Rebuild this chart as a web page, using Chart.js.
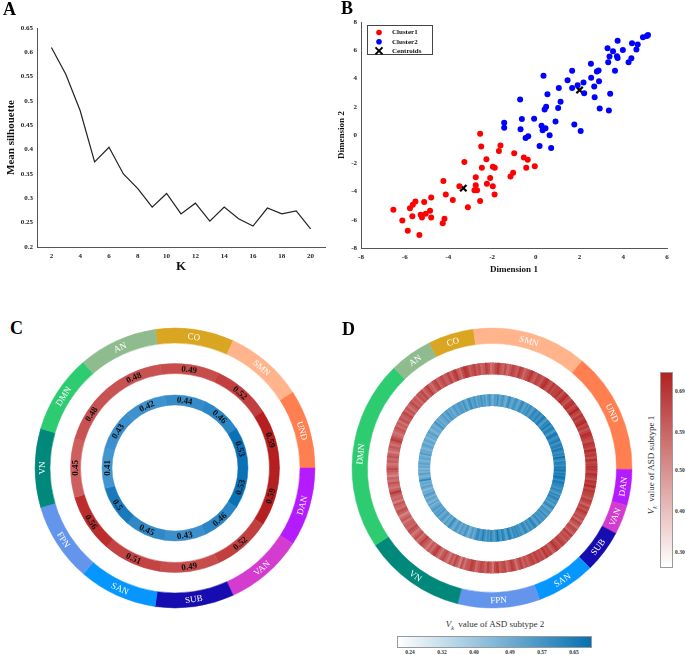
<!DOCTYPE html>
<html>
<head>
<meta charset="utf-8">
<script src="https://cdn.jsdelivr.net/npm/chart.js"></script>
<style>
  body { margin: 0; background: #fff; }
  #page { position: relative; width: 685px; height: 655px; overflow: hidden; font-family: "Liberation Serif", "DejaVu Serif", serif; }
  canvas { position: absolute; }
  .tag { position: absolute; font-weight: bold; font-size: 18px; line-height: 18px; }
  .cb-lab { position: absolute; font-size: 5.5px; color: #333; line-height: 5.5px; font-weight: bold; }
  .cb-title { position: absolute; font-size: 9px; color: #333; white-space: nowrap; }
</style>
</head>
<body>
<div id="page">
  <canvas id="cA" width="330" height="282" style="left:0;top:0"></canvas>
  <canvas id="cB" width="355" height="282" style="left:330px;top:0"></canvas>
  <canvas id="cC" width="300" height="300" style="left:25px;top:318px"></canvas>
  <canvas id="cD" width="300" height="300" style="left:342px;top:318px"></canvas>
  <div class="tag" style="left:3px;top:0">A</div>
  <div class="tag" style="left:341px;top:-1px">B</div>
  <div class="tag" style="left:10px;top:319px">C</div>
  <div class="tag" style="left:342px;top:320px">D</div>
  <div id="barRed" style="position:absolute;left:660px;top:372px;width:11px;height:194px;border:1px solid #999;background:linear-gradient(to top,#ffffff,#b22222)"></div>
  <div id="barBlue" style="position:absolute;left:397px;top:636px;width:193px;height:10px;border:1px solid #999;background:linear-gradient(to right,#ffffff,#0571b0)"></div>
  <div class="cb-title" style="left:652px;top:465px;transform:translate(-50%,-50%) rotate(-90deg)"><i>V</i><sub style="font-size:6px"><i>k</i></sub>&nbsp; value of ASD subtype 1</div>
  <div class="cb-title" style="left:495px;top:625px;transform:translate(-50%,-50%)"><i>V</i><sub style="font-size:6px"><i>k</i></sub>&nbsp; value of ASD subtype 2</div>
</div>
<script>
// ---- panel A: silhouette vs K
const kValues = [2, 3, 4, 5, 6, 7, 8, 9, 10, 11, 12, 13, 14, 15, 16, 17, 18, 19, 20];
const meanSilhouette = [0.61, 0.555, 0.48, 0.375, 0.405, 0.35, 0.32, 0.282, 0.31, 0.268, 0.29, 0.253, 0.282, 0.258, 0.243, 0.28, 0.268, 0.274, 0.237];
const yTicksA = [0.2, 0.25, 0.3, 0.35, 0.4, 0.45, 0.5, 0.55, 0.6, 0.65];
const xTicksA = [2, 4, 6, 8, 10, 12, 14, 16, 18, 20];

// ---- panel B: k-means scatter
const c1x = [-6.52, -6.11, -5.86, -5.76, -5.63, -5.51, -5.65, -5.33, -5.27, -5.21, -5.11, -5.04, -4.84, -4.79, -4.79, -4.26, -4.18, -4.23, -4.12, -3.80, -3.50, -3.27, -3.11, -2.81, -2.69, -2.75, -2.75, -2.55, -2.55, -2.50, -2.47, -2.26, -2.24, -2.09, -1.97, -1.97, -1.88, -1.89, -1.69, -1.62, -1.16, -1.04, -0.99, -0.55, -0.44, -0.37, -0.05];
const c1y = [-5.29, -6.05, -6.78, -5.18, -4.94, -4.71, -5.76, -7.08, -5.65, -5.84, -4.75, -5.58, -5.36, -4.42, -5.84, -6.24, -5.93, -3.25, -4.21, -4.61, -3.62, -1.91, -5.11, -3.91, -3.91, -2.99, -3.55, -4.68, 0.09, -0.82, -2.31, -1.72, -3.46, -3.04, -3.62, -2.24, -2.31, -4.21, -1.13, -0.75, -2.94, -2.68, -1.29, -1.60, -2.31, -1.76, -2.21];
const c2x = [-1.45, -1.45, -0.72, -0.70, -0.64, -0.47, -0.35, -0.08, 0.17, 0.26, 0.31, 0.35, 0.40, 0.44, 0.47, 0.53, 0.63, 0.70, 0.90, 1.02, 1.05, 1.13, 1.45, 1.66, 1.66, 1.76, 1.91, 2.05, 2.18, 2.21, 2.52, 2.53, 2.67, 2.69, 2.79, 2.87, 2.89, 2.92, 3.28, 3.31, 3.34, 3.37, 3.40, 3.53, 3.62, 3.71, 3.74, 3.74, 3.98, 4.24, 4.37, 4.40, 4.60, 4.66, 4.90, 5.08, 5.13];
const c2y = [0.87, 0.52, 2.52, 0.40, 1.13, -0.21, -0.09, 1.15, -0.78, 0.66, 0.33, 4.19, 1.81, 0.47, 2.00, 2.89, -0.02, -0.92, 0.96, 1.91, 3.32, 2.35, 3.88, 4.54, 3.32, 0.75, 3.53, 0.28, 3.72, 2.96, 5.04, 4.05, 3.44, 2.68, 4.49, 4.56, 3.81, 1.88, 6.14, 5.15, 1.74, 5.55, 2.92, 5.93, 4.54, 5.58, 6.68, 5.46, 6.02, 5.15, 5.44, 6.49, 6.05, 6.40, 6.92, 7.01, 7.08];
const centroidX = [-3.32, 2.0];
const centroidY = [-3.76, 3.18];

// ---- panels C/D: networks
const networks = ['CO', 'SMN', 'UND', 'DAN', 'VAN', 'SUB', 'SAN', 'FPN', 'VN', 'DMN', 'AN'];
const netColors = ['#daa520', '#ffb48c', '#ff7f50', '#b41cff', '#d43ccf', '#160cb0', '#0597ff', '#6495ed', '#00897b', '#2ecc71', '#8fbc8f'];
const subtype1C = [0.49, 0.52, 0.59, 0.59, 0.52, 0.49, 0.51, 0.56, 0.45, 0.48, 0.48];
const subtype2C = [0.44, 0.46, 0.53, 0.53, 0.46, 0.43, 0.45, 0.5, 0.41, 0.43, 0.42];
const nodeCounts = [14, 35, 37, 11, 9, 13, 18, 25, 31, 58, 13];

// node-level Vk, in network order (CO, SMN, UND, DAN, VAN, SUB, SAN, FPN, VN, DMN, AN)
const subtype1Nodes = [
  0.63,0.67,0.60,0.65,0.69,0.62,0.58,0.66,0.70,0.68,0.61,0.64,0.67,0.62,
  0.65,0.59,0.62,0.68,0.64,0.57,0.61,0.66,0.69,0.63,0.60,0.65,0.58,0.62,0.67,0.64,0.61,0.68,0.65,0.59,0.63,0.66,0.70,0.64,0.61,0.67,0.65,0.62,0.68,0.71,0.66,0.63,0.69,0.65,0.67,
  0.67,0.70,0.64,0.68,0.72,0.66,0.63,0.69,0.71,0.65,0.68,0.73,0.67,0.64,0.70,0.66,0.69,0.72,0.65,0.68,0.63,0.67,0.71,0.69,0.66,0.64,0.70,0.68,0.65,0.72,0.67,0.69,0.64,0.71,0.66,0.68,0.70,
  0.69,0.66,0.71,0.68,0.64,0.70,0.67,0.72,0.65,0.69,0.67,
  0.66,0.62,0.68,0.65,0.60,0.67,0.63,0.69,0.65,
  0.62,0.65,0.59,0.67,0.63,0.58,0.66,0.64,0.60,0.68,0.63,0.65,0.62,
  0.65,0.68,0.63,0.66,0.70,0.64,0.60,0.67,0.65,0.69,0.62,0.66,0.64,0.68,0.63,0.67,0.65,0.61,
  0.64,0.60,0.67,0.63,0.57,0.65,0.68,0.62,0.59,0.66,0.64,0.61,0.69,0.65,0.56,0.63,0.67,0.60,0.64,0.66,0.62,0.58,0.65,0.68,0.63,
  0.62,0.57,0.64,0.54,0.61,0.66,0.59,0.63,0.55,0.60,0.65,0.62,0.56,0.61,0.68,0.64,0.58,0.62,0.55,0.60,0.63,0.67,0.61,0.57,0.64,0.60,0.55,0.62,0.65,0.59,0.61,
  0.60,0.55,0.62,0.58,0.53,0.61,0.64,0.57,0.59,0.63,0.54,0.60,0.58,0.62,0.69,0.61,0.56,0.59,0.63,0.57,0.60,0.53,0.58,0.62,0.65,0.59,0.56,0.61,0.58,0.63,0.60,0.54,0.59,0.62,0.57,0.61,0.68,0.64,0.59,0.56,0.60,0.63,0.58,0.61,0.57,0.64,0.60,0.62,0.66,0.59,0.63,0.57,0.61,0.65,0.60,0.62,0.58,0.64,
  0.62,0.66,0.59,0.63,0.68,0.61,0.58,0.64,0.67,0.60,0.63,0.66,0.61
];
const subtype2Nodes = [
  0.55,0.51,0.58,0.53,0.49,0.56,0.60,0.52,0.54,0.57,0.50,0.55,0.53,0.58,
  0.52,0.56,0.49,0.54,0.58,0.51,0.47,0.55,0.53,0.59,0.50,0.54,0.57,0.52,0.48,0.55,0.60,0.53,0.51,0.56,0.58,0.54,0.50,0.57,0.61,0.55,0.52,0.58,0.54,0.60,0.56,0.53,0.59,0.62,0.57,
  0.59,0.63,0.56,0.61,0.65,0.58,0.54,0.62,0.60,0.66,0.57,0.61,0.64,0.59,0.55,0.63,0.67,0.60,0.58,0.62,0.65,0.57,0.61,0.64,0.59,0.66,0.62,0.58,0.63,0.60,0.68,0.61,0.57,0.64,0.62,0.59,0.65,
  0.63,0.67,0.60,0.65,0.62,0.68,0.64,0.59,0.66,0.63,0.61,
  0.60,0.56,0.62,0.58,0.54,0.61,0.57,0.63,0.59,
  0.55,0.59,0.52,0.57,0.61,0.54,0.50,0.58,0.56,0.53,0.60,0.55,0.57,
  0.58,0.54,0.61,0.56,0.52,0.59,0.63,0.55,0.57,0.60,0.53,0.58,0.62,0.56,0.54,0.59,0.57,0.61,
  0.57,0.61,0.54,0.59,0.65,0.56,0.52,0.60,0.63,0.55,0.58,0.67,0.59,0.53,0.57,0.62,0.56,0.60,0.54,0.58,0.64,0.57,0.55,0.61,0.59,
  0.53,0.49,0.56,0.51,0.47,0.54,0.58,0.50,0.52,0.55,0.48,0.53,0.57,0.51,0.49,0.54,0.60,0.52,0.50,0.55,0.47,0.53,0.56,0.51,0.49,0.57,0.52,0.54,0.50,0.55,0.53,
  0.50,0.47,0.53,0.45,0.49,0.52,0.46,0.51,0.55,0.48,0.50,0.44,0.49,0.53,0.47,0.51,0.48,0.61,0.52,0.46,0.49,0.54,0.47,0.50,0.45,0.51,0.48,0.53,0.49,0.46,0.52,0.50,0.47,0.55,0.49,0.51,0.46,0.48,0.53,0.50,0.47,0.52,0.49,0.45,0.51,0.48,0.54,0.50,0.46,0.49,0.52,0.47,0.51,0.58,0.49,0.53,0.48,0.51,
  0.51,0.55,0.49,0.53,0.57,0.50,0.54,0.48,0.52,0.56,0.51,0.53,0.55
];
const redBarTicks = [0.30, 0.40, 0.50, 0.59, 0.69];
const blueBarTicks = [0.24, 0.32, 0.40, 0.49, 0.57, 0.65];

// colour scales
const redRange = [0.266, 0.738];
const blueRange = [0.2075, 0.6925];
function mix(c0, c1, t) {
  t = Math.max(0, Math.min(1, t));
  return 'rgb(' + c0.map((v, k) => Math.round(v + (c1[k] - v) * t)).join(',') + ')';
}
const redC = v => mix([214, 118, 118], [180, 26, 26], (v - 0.40) / 0.20);
const blueC = v => mix([72, 152, 210], [5, 110, 180], (v - 0.40) / 0.14);
const redD = v => mix([255, 255, 255], [178, 34, 34], (v - redRange[0]) / (redRange[1] - redRange[0]));
const blueD = v => mix([255, 255, 255], [5, 113, 176], (v - blueRange[0]) / (blueRange[1] - blueRange[0]));

const serif = '"Liberation Serif", "DejaVu Serif", serif';
Chart.defaults.font.family = serif;
Chart.defaults.color = '#222';

// text placed along each ring segment
const ringLabels = {
  id: 'ringLabels',
  afterDatasetsDraw(chart) {
    const ctx = chart.ctx;
    chart.data.datasets.forEach((ds, i) => {
      if (!ds.ringText) return;
      chart.getDatasetMeta(i).data.forEach((arc, j) => {
        const p = arc.getProps(['x', 'y', 'startAngle', 'endAngle', 'innerRadius', 'outerRadius']);
        const a = (p.startAngle + p.endAngle) / 2;
        const r = (p.innerRadius + p.outerRadius) / 2;
        let t = a + Math.PI / 2;
        t = Math.atan2(Math.sin(t), Math.cos(t));
        const rot = Math.abs(t) <= Math.PI / 2 ? t : t - Math.sign(t) * Math.PI;
        ctx.save();
        ctx.translate(p.x + r * Math.cos(a), p.y + r * Math.sin(a));
        ctx.rotate(rot);
        ctx.font = ds.ringFont;
        ctx.fillStyle = ds.ringColor;
        ctx.textAlign = 'center';
        ctx.textBaseline = 'middle';
        ctx.fillText(ds.ringText[j], 0, 0.5);
        ctx.restore();
      });
    });
  }
};

// boxed legend for panel B
const boxLegend = {
  id: 'boxLegend',
  afterDraw(chart, args, o) {
    const ctx = chart.ctx;
    ctx.save();
    ctx.fillStyle = '#fff';
    ctx.fillRect(o.x, o.y, o.w, o.h);
    ctx.strokeStyle = '#444';
    ctx.lineWidth = 1;
    ctx.strokeRect(o.x + 0.5, o.y + 0.5, o.w, o.h);
    chart.data.datasets.forEach((ds, i) => {
      const y = o.y + 7.5 + i * 9.2;
      const x = o.x + 12;
      if (ds.pointStyle === 'crossRot') {
        ctx.strokeStyle = ds.borderColor;
        ctx.lineWidth = 2;
        ctx.beginPath();
        ctx.moveTo(x - 3.5, y - 3.5); ctx.lineTo(x + 3.5, y + 3.5);
        ctx.moveTo(x + 3.5, y - 3.5); ctx.lineTo(x - 3.5, y + 3.5);
        ctx.stroke();
      } else {
        ctx.fillStyle = ds.backgroundColor;
        ctx.beginPath();
        ctx.arc(x, y, 2.8, 0, Math.PI * 2);
        ctx.fill();
      }
      ctx.fillStyle = '#111';
      ctx.font = 'bold 7px ' + serif;
      ctx.textBaseline = 'middle';
      ctx.fillText(ds.label, o.x + 25, y);
    });
    ctx.restore();
  }
};

const tickFont = {size: 7, weight: 'bold'};
const axisBorder = {display: true, color: '#555', width: 1};

new Chart(document.getElementById('cA'), {
  type: 'line',
  data: {
    datasets: [{
      data: kValues.map((k, i) => ({x: k, y: meanSilhouette[i]})),
      borderColor: '#222',
      borderWidth: 1.2,
      pointRadius: 0,
      tension: 0
    }]
  },
  options: {
    responsive: false,
    animation: false,
    events: [],
    layout: {padding: {top: 28, right: 5, left: 0, bottom: 0}},
    plugins: {legend: {display: false}, tooltip: {enabled: false}},
    scales: {
      x: {
        type: 'linear', min: 1, max: 21,
        grid: {display: false, drawTicks: false},
        border: axisBorder,
        afterBuildTicks: s => { s.ticks = xTicksA.map(v => ({value: v})); },
        afterFit: s => { s.height = 35; },
        ticks: {font: tickFont, padding: 5, color: '#222'},
        title: {display: true, text: 'K', font: {size: 13, weight: 'bold'}, padding: {top: 0, bottom: 8}, color: '#111'}
      },
      y: {
        min: 0.2, max: 0.65,
        grid: {display: false, drawTicks: false},
        border: axisBorder,
        afterBuildTicks: s => { s.ticks = yTicksA.map(v => ({value: v})); },
        afterFit: s => { s.width = 37; },
        ticks: {font: tickFont, padding: 4, color: '#222', callback: v => String(v)},
        title: {display: true, text: 'Mean silhouette', font: {size: 11, weight: 'bold'}, padding: {top: 5, bottom: 0}, color: '#111'}
      }
    }
  }
});

new Chart(document.getElementById('cB'), {
  type: 'scatter',
  data: {
    datasets: [
      {label: 'Cluster1', data: c1x.map((x, i) => ({x, y: c1y[i]})), backgroundColor: '#ff0000', borderWidth: 0, pointRadius: 3, pointStyle: 'circle'},
      {label: 'Cluster2', data: c2x.map((x, i) => ({x, y: c2y[i]})), backgroundColor: '#0000ff', borderWidth: 0, pointRadius: 3, pointStyle: 'circle'},
      {label: 'Centroids', data: centroidX.map((x, i) => ({x, y: centroidY[i]})), borderColor: '#000', backgroundColor: '#000', borderWidth: 2.2, pointRadius: 4.5, pointStyle: 'crossRot'}
    ]
  },
  options: {
    responsive: false,
    animation: false,
    events: [],
    layout: {padding: {top: 22, right: 18, left: 0, bottom: 0}},
    plugins: {legend: {display: false}, tooltip: {enabled: false}, boxLegend: {x: 37, y: 25, w: 65, h: 29}},
    scales: {
      x: {
        type: 'linear', min: -8, max: 6,
        grid: {display: false, drawTicks: false},
        border: axisBorder,
        ticks: {stepSize: 2, font: tickFont, padding: 5, color: '#222'},
        afterFit: s => { s.height = 34; },
        title: {display: true, text: 'Dimension 1', font: {size: 9, weight: 'bold'}, padding: {top: 0, bottom: 7}, color: '#111'}
      },
      y: {
        min: -8, max: 8,
        grid: {display: false, drawTicks: false},
        border: axisBorder,
        ticks: {stepSize: 2, font: tickFont, padding: 4, color: '#222'},
        afterFit: s => { s.width = 31; },
        title: {display: true, text: 'Dimension 2', font: {size: 9, weight: 'bold'}, padding: {top: 6, bottom: 0}, color: '#111'}
      }
    }
  },
  plugins: [boxLegend]
});

const clear = 'rgba(0,0,0,0)';
const outerFont = '9px ' + serif;

new Chart(document.getElementById('cC'), {
  type: 'doughnut',
  data: {
    labels: networks,
    datasets: [
      {data: networks.map(() => 1), backgroundColor: netColors, borderColor: netColors, borderWidth: 0.5, weight: 15, ringText: networks, ringFont: outerFont, ringColor: '#fff'},
      {data: [1], backgroundColor: clear, borderWidth: 0, weight: 20.5},
      {data: subtype1C.map(() => 1), backgroundColor: subtype1C.map(redC), borderColor: subtype1C.map(redC), borderWidth: 0.5, weight: 10, ringText: subtype1C.map(String), ringFont: 'bold 9px ' + serif, ringColor: '#111'},
      {data: [1], backgroundColor: clear, borderWidth: 0, weight: 21.5},
      {data: subtype2C.map(() => 1), backgroundColor: subtype2C.map(blueC), borderColor: subtype2C.map(blueC), borderWidth: 0.5, weight: 10, ringText: subtype2C.map(String), ringFont: 'bold 9px ' + serif, ringColor: '#111'}
    ]
  },
  options: {
    responsive: false, animation: false, events: [],
    radius: 140, cutout: '45%', rotation: -8.18,
    plugins: {legend: {display: false}, tooltip: {enabled: false}}
  },
  plugins: [ringLabels]
});

new Chart(document.getElementById('cD'), {
  type: 'doughnut',
  data: {
    labels: networks,
    datasets: [
      {data: nodeCounts, backgroundColor: netColors, borderColor: netColors, borderWidth: 0.5, weight: 15.5, ringText: networks, ringFont: outerFont, ringColor: '#fff'},
      {data: [1], backgroundColor: clear, borderWidth: 0, weight: 19.7},
      {data: subtype1Nodes.map(() => 1), backgroundColor: subtype1Nodes.map(redD), borderColor: subtype1Nodes.map(redD), borderWidth: 1.2, borderJoinStyle: 'miter', weight: 10.6},
      {data: [1], backgroundColor: clear, borderWidth: 0, weight: 21},
      {data: subtype2Nodes.map(() => 1), backgroundColor: subtype2Nodes.map(blueD), borderColor: subtype2Nodes.map(blueD), borderWidth: 1.2, borderJoinStyle: 'miter', weight: 10.7}
    ]
  },
  options: {
    responsive: false, animation: false, events: [],
    radius: 140, cutout: '44.64%', rotation: -26.7,
    plugins: {legend: {display: false}, tooltip: {enabled: false}}
  },
  plugins: [ringLabels]
});

// colour bar tick labels
const page = document.getElementById('page');
redBarTicks.forEach(v => {
  const d = document.createElement('div');
  d.className = 'cb-lab';
  d.textContent = v.toFixed(2);
  d.style.left = '675px';
  d.style.top = (567 - (v - redRange[0]) / (redRange[1] - redRange[0]) * 195 - 2.7) + 'px';
  page.appendChild(d);
});
blueBarTicks.forEach(v => {
  const d = document.createElement('div');
  d.className = 'cb-lab';
  d.textContent = v.toFixed(2);
  d.style.left = (397 + (v - blueRange[0]) / (blueRange[1] - blueRange[0]) * 194) + 'px';
  d.style.top = '650px';
  d.style.transform = 'translateX(-50%)';
  page.appendChild(d);
});
</script>
</body>
</html>
